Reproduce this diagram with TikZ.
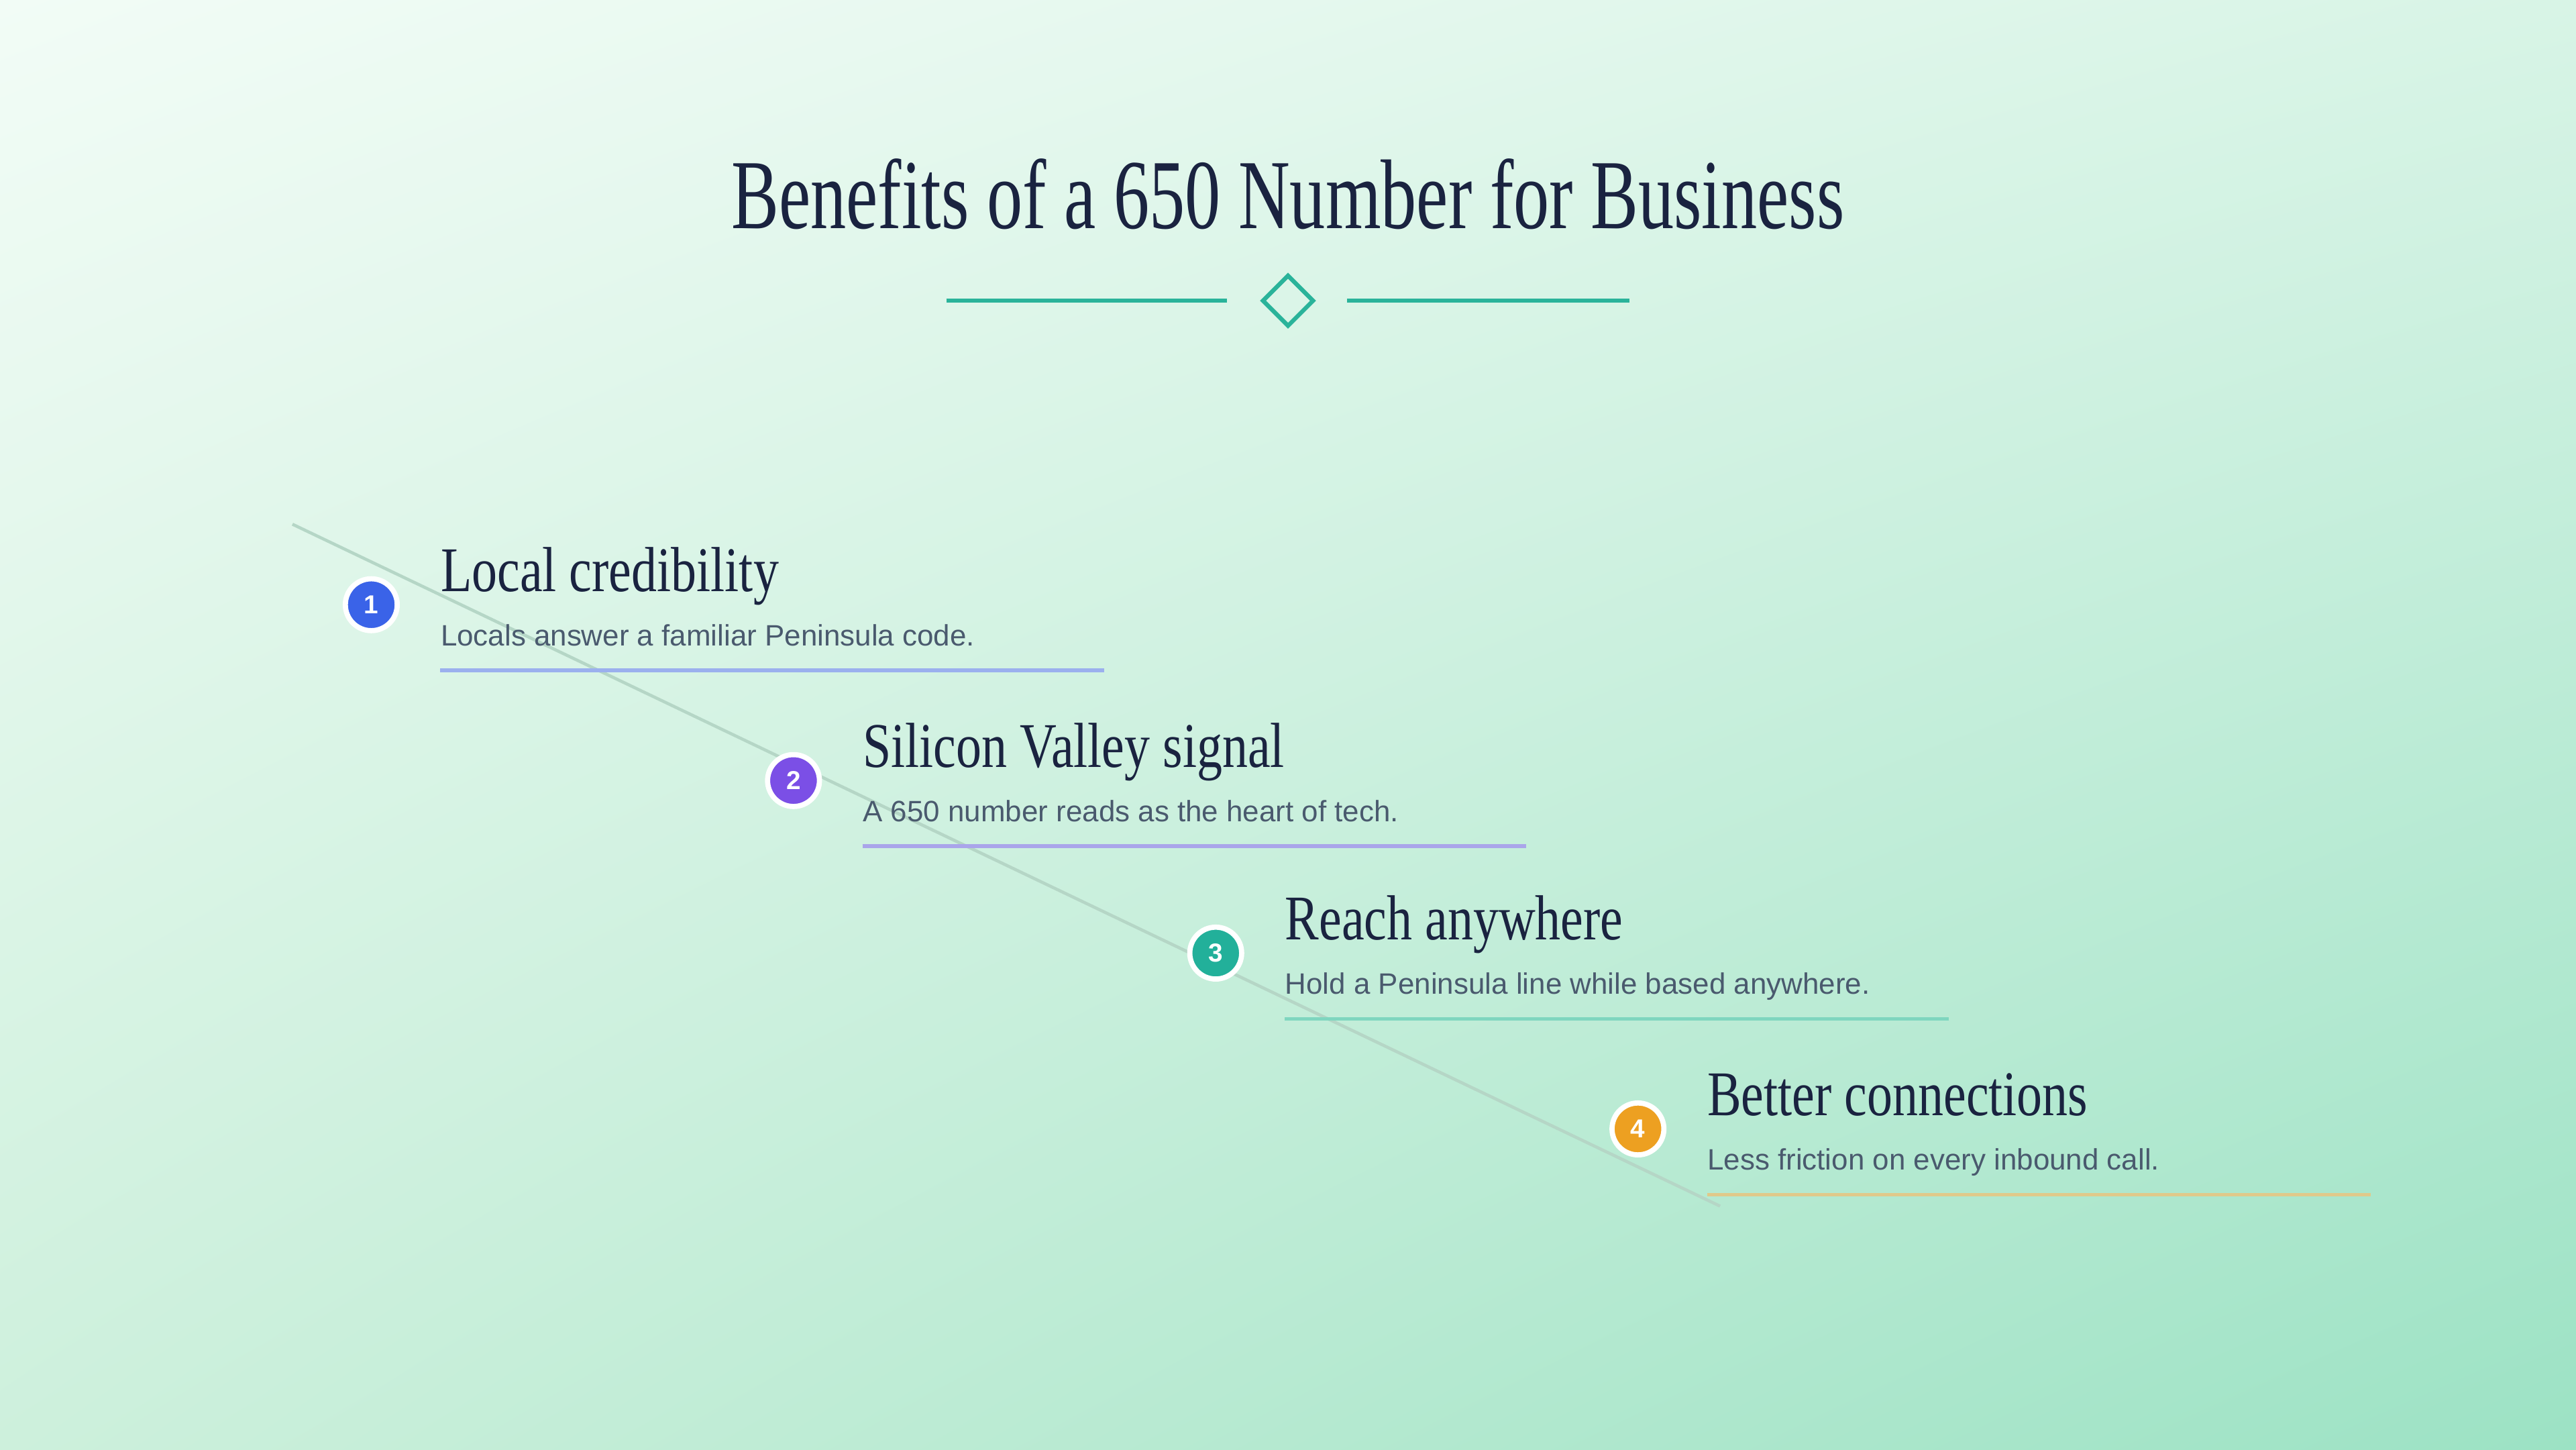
\documentclass[tikz,border=0pt]{standalone}
\usepackage{fontspec}
\usepackage{graphicx}
\usetikzlibrary{shadings}
\setmainfont{Liberation Serif}
\newfontfamily\subfont{Liberation Sans}
\definecolor{navy}{HTML}{1A2340}
\definecolor{teal}{HTML}{2AB39A}
\definecolor{subc}{HTML}{4A5A6E}
\definecolor{cA}{HTML}{3A63E8}\definecolor{uA}{HTML}{9BB0EE}
\definecolor{cB}{HTML}{7B4FE6}\definecolor{uB}{HTML}{AAA5EA}
\definecolor{cC}{HTML}{22B09A}\definecolor{uC}{HTML}{7FD6BF}
\definecolor{cD}{HTML}{EDA021}\definecolor{uD}{HTML}{E0C98A}
\definecolor{bgA}{HTML}{F2FCF6}\definecolor{bgB}{HTML}{D8F4E6}
\definecolor{bgC}{HTML}{CDF0DC}\definecolor{bgD}{HTML}{9CE2C4}
\definecolor{diag}{HTML}{B5D6C6}
\begin{document}
\begin{tikzpicture}[x=0.02449cm,y=-0.02449cm,
  ttl/.style={anchor=base west,inner sep=0,text=navy,font=\fontsize{27}{30}\selectfont},
  sub/.style={anchor=base west,inner sep=0,text=subc,font=\subfont\fontsize{12.5}{15}\selectfont},
  dot/.style={circle,draw=white,line width=2.2pt,minimum size=22pt,inner sep=0,text=white,font=\subfont\bfseries\fontsize{11}{12}\selectfont},
  uline/.style={line width=1.6pt}]
\useasboundingbox (0,0) rectangle (1568,882);
\fill[bgC] (0,0) rectangle (1568,882);
\shade[upper left=bgA,upper right=bgB,lower left=bgC,lower right=bgD] (0,0) rectangle (1568,882);
\node[text=navy,inner sep=0,font=\fontsize{42}{46}\selectfont] (title) at (784,118) {\scalebox{0.72}[1]{Benefits of a 650 Number for Business}};
\coordinate (l1) at (576,183); \coordinate (l2) at (747,183);
\coordinate (r1) at (820,183); \coordinate (r2) at (992,183);
\draw[teal,line width=1.8pt] (l1) -- (l2) (r1) -- (r2);
\node[draw=teal,line width=1.8pt,fill=none,minimum size=15pt,rotate=45,inner sep=0] (dia) at (784,183) {};
\coordinate (s) at (178,319); \coordinate (e) at (1047,734);
\draw[diag,line width=1.3pt] (s) -- (e);
\foreach \i/\x/\y/\c/\u/\t/\d in {
 1/226/368/cA/uA/Local credibility/Locals answer a familiar Peninsula code.,
 2/483/475/cB/uB/Silicon Valley signal/A 650 number reads as the heart of tech.,
 3/740/580/cC/uC/Reach anywhere/Hold a Peninsula line while based anywhere.,
 4/997/687/cD/uD/Better connections/Less friction on every inbound call.}{
 \node[dot,fill=\c] (n\i) at (\x,\y) {\i};
 \node[ttl] (t\i) at (\x+42,\y-8) {\scalebox{0.8}[1]{\t}};
 \node[sub] (d\i) at (\x+42,\y+25) {\d};
 \coordinate (ua\i) at (\x+42,\y+40);
 \coordinate (ub\i) at (\x+446,\y+40);
 \draw[uline,\u] (ua\i) -- (ub\i);
}
\end{tikzpicture}
\end{document}
